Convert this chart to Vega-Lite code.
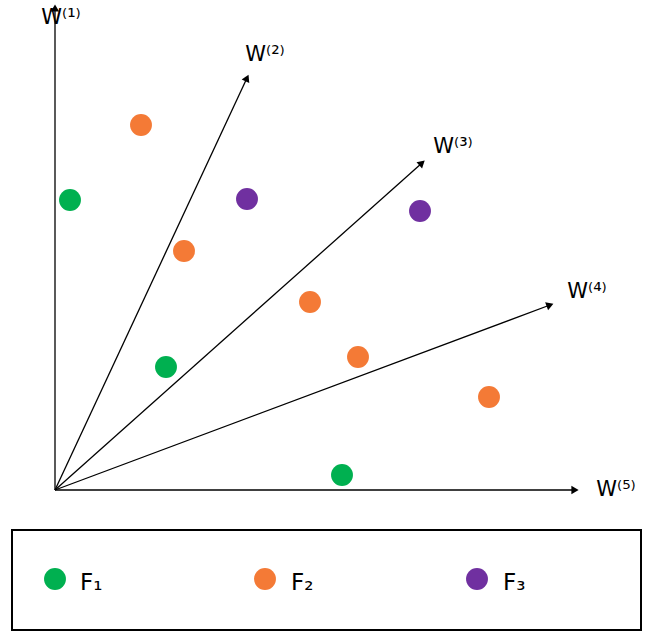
{
  "$schema": "https://vega.github.io/schema/vega-lite/v6.json",
  "width": 654,
  "height": 643,
  "autosize": "none",
  "padding": 0,
  "config": {"view": {"stroke": null}},
  "datasets": {
    "rays": [
      {"name": "W1", "x0": 0, "y0": 0, "x": 0, "y": 482},
      {"name": "W2", "x0": 0, "y0": 0, "x": 192, "y": 412},
      {"name": "W3", "x0": 0, "y0": 0, "x": 367, "y": 327},
      {"name": "W4", "x0": 0, "y0": 0, "x": 495, "y": 185},
      {"name": "W5", "x0": 0, "y0": 0, "x": 520, "y": 0}
    ],
    "labels": [
      {"text": "W⁽¹⁾", "x": 6, "y": 472},
      {"text": "W⁽²⁾", "x": 210, "y": 435},
      {"text": "W⁽³⁾", "x": 398, "y": 343},
      {"text": "W⁽⁴⁾", "x": 532, "y": 198},
      {"text": "W⁽⁵⁾", "x": 561, "y": 0}
    ],
    "points": [
      {"group": "F1", "x": 15, "y": 290},
      {"group": "F1", "x": 111, "y": 123},
      {"group": "F1", "x": 287, "y": 15},
      {"group": "F2", "x": 86, "y": 365},
      {"group": "F2", "x": 129, "y": 239},
      {"group": "F2", "x": 255, "y": 188},
      {"group": "F2", "x": 303, "y": 133},
      {"group": "F2", "x": 434, "y": 93},
      {"group": "F3", "x": 192, "y": 291},
      {"group": "F3", "x": 365, "y": 279},
      {"group": "F1", "x": 0, "y": -89},
      {"group": "F2", "x": 210, "y": -89},
      {"group": "F3", "x": 422, "y": -89}
    ],
    "legendText": [
      {"text": "F₁", "x": 25, "y": -93},
      {"text": "F₂", "x": 236, "y": -93},
      {"text": "F₃", "x": 448, "y": -93}
    ],
    "box": [{"x": -43, "y": -40, "x2": 586, "y2": -140}]
  },
  "resolve": {"scale": {"x": "shared", "y": "shared"}},
  "encoding": {
    "x": {"type": "quantitative", "scale": {"domain": [-55, 599], "nice": false, "zero": false}, "axis": null},
    "y": {"type": "quantitative", "scale": {"domain": [-153, 490], "nice": false, "zero": false}, "axis": null}
  },
  "layer": [
    {
      "data": {"name": "rays"},
      "mark": {"type": "rule", "color": "black", "strokeWidth": 1.3},
      "encoding": {
        "x": {"field": "x0", "type": "quantitative"},
        "y": {"field": "y0", "type": "quantitative"},
        "x2": {"field": "x"},
        "y2": {"field": "y"}
      }
    },
    {
      "data": {"name": "rays"},
      "transform": [
        {"calculate": "90 - atan2(datum.y, datum.x) * 180 / PI", "as": "ang"}
      ],
      "mark": {"type": "point", "shape": "triangle-up", "filled": true, "color": "black", "size": 70, "opacity": 1},
      "encoding": {
        "x": {"field": "x", "type": "quantitative"},
        "y": {"field": "y", "type": "quantitative"},
        "angle": {"field": "ang", "type": "quantitative", "scale": null}
      }
    },
    {
      "data": {"name": "labels"},
      "mark": {"type": "text", "font": "DejaVu Sans", "fontSize": 21, "align": "center", "baseline": "middle"},
      "encoding": {
        "x": {"field": "x", "type": "quantitative"},
        "y": {"field": "y", "type": "quantitative"},
        "text": {"field": "text"}
      }
    },
    {
      "data": {"name": "box"},
      "mark": {"type": "rect", "fill": null, "stroke": "black", "strokeWidth": 2},
      "encoding": {
        "x": {"field": "x", "type": "quantitative"},
        "y": {"field": "y", "type": "quantitative"},
        "x2": {"field": "x2"},
        "y2": {"field": "y2"}
      }
    },
    {
      "data": {"name": "points"},
      "mark": {"type": "circle", "size": 480, "opacity": 1},
      "encoding": {
        "x": {"field": "x", "type": "quantitative"},
        "y": {"field": "y", "type": "quantitative"},
        "color": {
          "field": "group",
          "type": "nominal",
          "scale": {"domain": ["F1", "F2", "F3"], "range": ["#00B050", "#F47A36", "#7030A0"]},
          "legend": null
        }
      }
    },
    {
      "data": {"name": "legendText"},
      "mark": {"type": "text", "font": "DejaVu Sans", "fontSize": 23, "align": "left", "baseline": "middle"},
      "encoding": {
        "x": {"field": "x", "type": "quantitative"},
        "y": {"field": "y", "type": "quantitative"},
        "text": {"field": "text"}
      }
    }
  ]
}
